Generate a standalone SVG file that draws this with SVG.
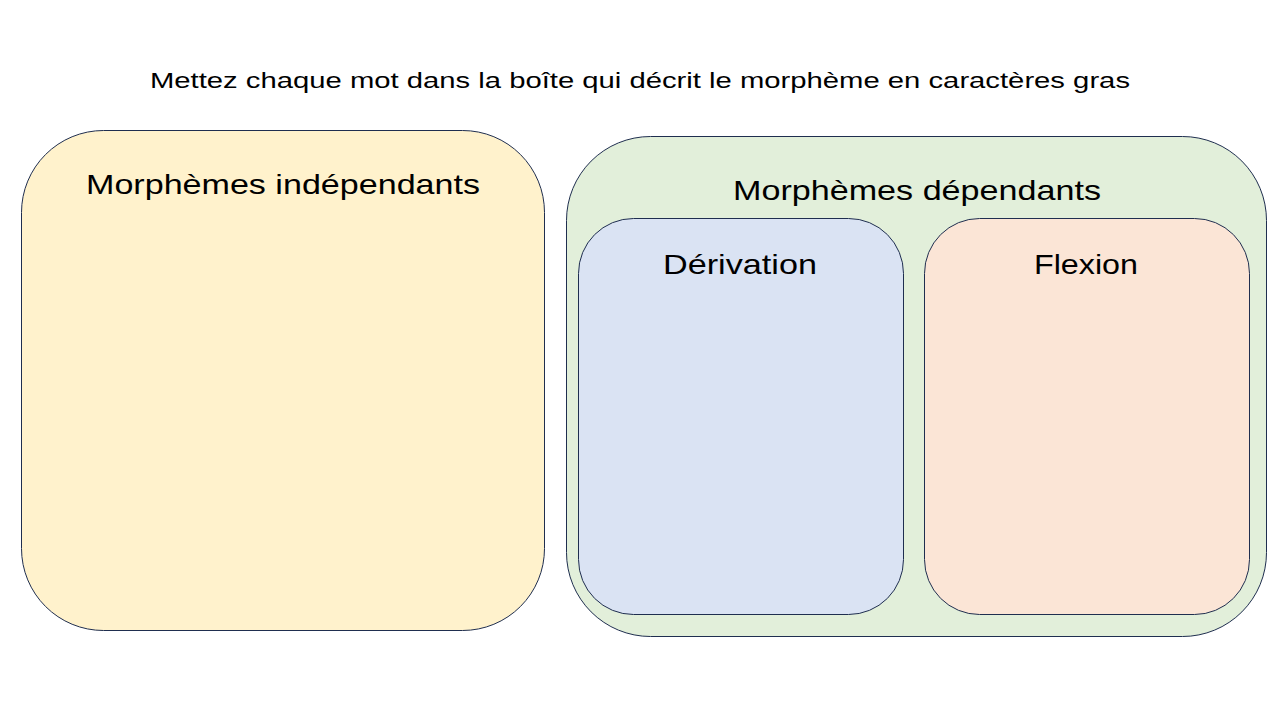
<svg xmlns="http://www.w3.org/2000/svg" width="1280" height="720" viewBox="0 0 1280 720">
<style>
.box{stroke:#1F2E4F;stroke-width:1}
text{font-family:"Liberation Sans",Arial,sans-serif;fill:#000;text-anchor:middle}
.h{font-size:28px}
</style>
<rect width="1280" height="720" fill="#fff"/>
<g id="title"><text x="640" y="88" font-size="22" textLength="980" lengthAdjust="spacingAndGlyphs">Mettez chaque mot dans la boîte qui décrit le morphème en caractères gras</text></g>
<g id="independants">
<rect class="box" x="21.5" y="130.5" width="523" height="500" rx="82" fill="#FFF2CC"/>
<text class="h" x="283" y="194" textLength="394" lengthAdjust="spacingAndGlyphs">Morphèmes indépendants</text>
</g>
<g id="dependants">
<rect class="box" x="566.5" y="136.5" width="700" height="500" rx="84" fill="#E2EFDA"/>
<text class="h" x="917" y="200" textLength="368" lengthAdjust="spacingAndGlyphs">Morphèmes dépendants</text>
</g>
<g id="derivation">
<rect class="box" x="578.5" y="218.5" width="325" height="396" rx="55" fill="#DAE3F3"/>
<text class="h" x="740" y="274" textLength="154" lengthAdjust="spacingAndGlyphs">Dérivation</text>
</g>
<g id="flexion">
<rect class="box" x="924.5" y="218.5" width="325" height="396" rx="55" fill="#FBE5D6"/>
<text class="h" x="1086" y="274" textLength="104" lengthAdjust="spacingAndGlyphs">Flexion</text>
</g>
<g id="connectors"></g>
</svg>
